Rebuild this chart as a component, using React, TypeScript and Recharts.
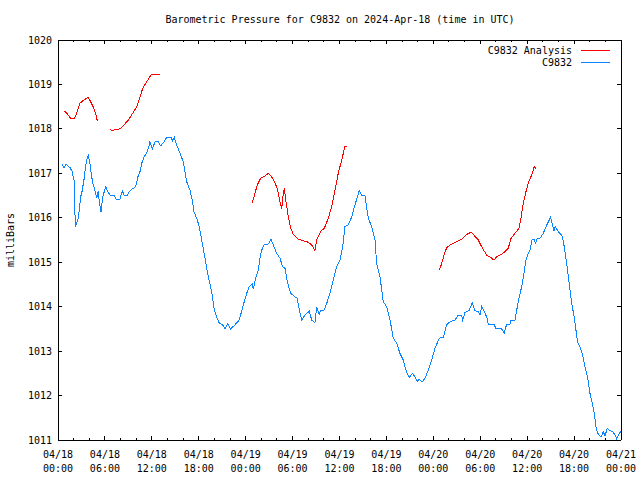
import React from 'react';
import { LineChart, Line, XAxis, YAxis } from 'recharts';

const TITLE = 'Barometric Pressure for C9832 on 2024-Apr-18 (time in UTC)';
const Y_LABEL = 'milliBars';
const ANALYSIS_NAME = 'C9832 Analysis';
const OBS_NAME = 'C9832';

const xMajorHours = [0, 6, 12, 18, 24, 30, 36, 42, 48, 54, 60, 66, 72];
const xTickDates = ['04/18', '04/18', '04/18', '04/18', '04/19', '04/19', '04/19', '04/19', '04/20', '04/20', '04/20', '04/20', '04/21'];
const xTickTimes = ['00:00', '06:00', '12:00', '18:00', '00:00', '06:00', '12:00', '18:00', '00:00', '06:00', '12:00', '18:00', '00:00'];
const xMinorHours = [0, 2, 4, 6, 8, 10, 12, 14, 16, 18, 20, 22, 24, 26, 28, 30, 32, 34, 36, 38, 40, 42, 44, 46, 48, 50, 52, 54, 56, 58, 60, 62, 64, 66, 68, 70, 72];
const yTicks = [1011, 1012, 1013, 1014, 1015, 1016, 1017, 1018, 1019, 1020];

// observed station pressure (hours since 2024-04-18 00:00 UTC)
const obsHours = [
  0.51, 0.77, 1.02, 1.53, 1.79, 2.05, 2.14, 2.21, 2.39, 2.60, 2.72, 2.90, 3.07, 3.32, 3.49, 3.67, 3.87,
  4.09, 4.31, 4.51, 4.77, 4.95, 5.15, 5.28, 5.50, 5.72, 5.92, 6.10, 6.36, 6.65, 7.16, 7.42, 7.93, 8.22,
  8.44, 8.86, 9.21, 9.85, 10.06, 10.27, 10.49, 10.70, 11.00, 11.34, 11.55, 11.76, 12.06, 12.40, 12.83,
  13.13, 13.55, 13.90, 14.45, 14.67, 14.87, 15.18, 15.60, 16.02, 16.46, 16.88, 17.17, 17.39, 17.81,
  18.07, 18.38, 18.80, 19.22, 19.65, 19.99, 20.29, 20.63, 21.06, 21.36, 21.70, 22.08, 22.63, 23.18,
  23.70, 24.13, 24.46, 24.85, 24.97, 25.32, 25.61, 25.83, 26.05, 26.34, 26.89, 27.24, 27.53, 27.97,
  28.39, 28.73, 29.03, 29.32, 29.76, 30.31, 30.60, 30.86, 31.16, 31.59, 32.14, 32.44, 32.86, 33.08,
  33.41, 33.59, 34.02, 34.36, 34.78, 35.20, 35.64, 36.06, 36.41, 36.70, 37.12, 37.56, 37.98, 38.53,
  38.84, 39.26, 39.68, 40.12, 40.54, 40.75, 41.18, 41.60, 42.03, 42.46, 42.88, 43.31, 43.73, 44.16,
  44.50, 44.92, 45.31, 45.65, 45.95, 46.16, 46.55, 46.93, 47.35, 47.79, 48.21, 48.76, 49.27, 49.71,
  50.13, 50.77, 51.19, 51.62, 51.75, 52.05, 52.60, 52.98, 53.32, 53.75, 53.96, 54.18, 54.51, 54.82,
  55.03, 55.75, 56.01, 56.74, 57.07, 57.38, 57.80, 57.89, 58.44, 58.66, 58.99, 59.30, 59.59, 59.85,
  60.06, 60.36, 60.65, 60.91, 61.09, 61.21, 61.64, 62.06, 62.57, 63.00, 63.21, 63.43, 63.59, 63.98,
  64.49, 64.74, 65.05, 65.38, 65.69, 65.98, 66.24, 66.46, 66.75, 67.10, 67.39, 67.74, 68.03, 68.32,
  68.58, 68.80, 69.02, 69.31, 69.53, 69.73, 69.95, 70.24, 70.59, 70.93, 71.23, 71.44, 71.65, 71.96,
];
const obsPressure = [
  1017.20, 1017.12, 1017.20, 1017.13, 1017.05, 1016.85, 1016.33, 1015.81, 1015.87, 1016.00, 1016.17, 1016.47, 1016.59, 1016.85, 1017.11, 1017.30, 1017.41,
  1017.22, 1016.92, 1016.74, 1016.59, 1016.44, 1016.61, 1016.36, 1016.14, 1016.47, 1016.59, 1016.70, 1016.59, 1016.51, 1016.50, 1016.42, 1016.42, 1016.61,
  1016.51, 1016.51, 1016.61, 1016.69, 1016.78, 1016.96, 1017.04, 1017.22, 1017.37, 1017.45, 1017.56, 1017.71, 1017.54, 1017.71, 1017.71,
  1017.62, 1017.71, 1017.81, 1017.81, 1017.73, 1017.81, 1017.64, 1017.45, 1017.26, 1016.81, 1016.62, 1016.40, 1016.14, 1015.95,
  1015.80, 1015.50, 1015.09, 1014.67, 1014.34, 1013.92, 1013.77, 1013.63, 1013.59, 1013.50, 1013.61, 1013.50, 1013.59, 1013.70,
  1014.04, 1014.30, 1014.45, 1014.51, 1014.39, 1014.67, 1014.82, 1015.09, 1015.27, 1015.39, 1015.41, 1015.52, 1015.39, 1015.20,
  1015.09, 1014.90, 1014.86, 1014.56, 1014.30, 1014.22, 1014.19, 1013.92, 1013.70, 1013.81, 1013.90, 1013.70, 1013.63, 1014.00,
  1013.83, 1013.92, 1013.92, 1014.07, 1014.30, 1014.60, 1014.90, 1015.05, 1015.35, 1015.80, 1015.84, 1016.02, 1016.29, 1016.61,
  1016.51, 1016.49, 1015.99, 1015.80, 1015.50, 1014.97, 1014.67, 1014.11, 1014.00, 1013.70, 1013.29, 1013.18, 1012.95, 1012.80,
  1012.57, 1012.40, 1012.50, 1012.42, 1012.31, 1012.37, 1012.30, 1012.39, 1012.57, 1012.80, 1013.06, 1013.29, 1013.31, 1013.59,
  1013.66, 1013.70, 1013.81, 1013.81, 1013.70, 1013.87, 1013.92, 1014.09, 1013.91, 1013.89, 1013.81, 1014.00, 1013.89, 1013.77,
  1013.61, 1013.61, 1013.50, 1013.50, 1013.40, 1013.61, 1013.61, 1013.70, 1013.70, 1013.92, 1014.22, 1014.45, 1014.75, 1015.05,
  1015.16, 1015.27, 1015.52, 1015.52, 1015.41, 1015.52, 1015.54, 1015.65, 1015.86, 1016.01, 1015.87, 1015.71, 1015.80, 1015.69,
  1015.59, 1015.35, 1014.97, 1014.52, 1014.07, 1013.81, 1013.47, 1013.19, 1013.10, 1012.91, 1012.65, 1012.39, 1012.05, 1011.83,
  1011.60, 1011.30, 1011.15, 1011.09, 1011.09, 1011.19, 1011.09, 1011.26, 1011.21, 1011.19, 1011.11, 1011.03, 1011.11, 1011.19,
];

// analysis pressure; null marks a gap between runs
const anaHours = [
  0.77, 1.11, 1.62, 2.05, 2.39, 2.81, 3.32, 3.87, 4.18, 4.60, 4.86, 5.03,
  5.8,
  6.65, 6.99, 7.42, 7.93, 8.44, 8.99, 9.55, 10.06, 10.49, 10.83, 11.34, 11.89, 12.40, 13.04,
  20.0,
  24.85, 25.19, 25.49, 25.92, 26.47, 26.89, 27.33, 27.75, 28.09, 28.39, 28.61, 28.81, 28.94, 29.16,
  29.45, 29.76, 30.09, 30.73, 31.37, 32.01, 32.44, 32.86, 33.08, 33.41, 33.72, 34.05, 34.57, 35.00,
  35.42, 35.84, 36.28, 36.70, 36.99,
  42.0,
  48.76, 49.07, 49.36, 49.71, 50.22, 50.98, 51.62, 52.05, 52.47, 52.90, 53.32, 53.75, 54.18, 54.82,
  55.24, 55.75, 56.10, 56.74, 57.16, 57.58, 57.89, 58.44, 58.95, 59.21, 59.50, 59.85, 60.14, 60.57,
  60.91, 61.09,
];
const anaPressure = [
  1018.40, 1018.36, 1018.24, 1018.22, 1018.35, 1018.58, 1018.65, 1018.71, 1018.61, 1018.46, 1018.31, 1018.18,
  null,
  1017.99, 1017.96, 1017.99, 1018.00, 1018.09, 1018.20, 1018.35, 1018.50, 1018.72, 1018.91, 1019.06, 1019.21, 1019.23, 1019.23,
  null,
  1016.34, 1016.55, 1016.74, 1016.89, 1016.94, 1017.00, 1016.92, 1016.79, 1016.62, 1016.36, 1016.21, 1016.55, 1016.66, 1016.36,
  1016.02, 1015.76, 1015.63, 1015.52, 1015.48, 1015.45, 1015.39, 1015.26, 1015.50, 1015.63, 1015.72, 1015.76, 1015.99, 1016.25,
  1016.62, 1017.00, 1017.30, 1017.61, 1017.61,
  null,
  1014.82, 1014.97, 1015.16, 1015.33, 1015.40, 1015.46, 1015.52, 1015.59, 1015.65, 1015.67, 1015.58, 1015.50, 1015.35, 1015.16,
  1015.12, 1015.05, 1015.12, 1015.18, 1015.24, 1015.31, 1015.52, 1015.65, 1015.76, 1015.99, 1016.33, 1016.59, 1016.78, 1016.96,
  1017.15, 1017.11,
];

const obsData = obsHours.map((h, i) => ({ h, p: obsPressure[i] }));
const anaData = anaHours.map((h, i) => ({ h, p: anaPressure[i] }));

const FONT = '"DejaVu Sans Mono", "Liberation Mono", monospace';
const RED = '#ff0000';
const BLUE = '#0a84ff';

const BottomTick = (props: any) => {
  const { x, y, payload } = props;
  const idx = xMajorHours.indexOf(payload.value);
  const major = idx >= 0;
  return (
    <g>
      <line x1={x} y1={y} x2={x} y2={y - (major ? 4 : 2)} stroke="#000" shapeRendering="crispEdges" />
      {major && (
        <text x={x} y={y + 18} textAnchor="middle" fontFamily={FONT} fontSize={10} fill="#000">
          {xTickDates[idx]}
        </text>
      )}
      {major && (
        <text x={x} y={y + 31.5} textAnchor="middle" fontFamily={FONT} fontSize={10} fill="#000">
          {xTickTimes[idx]}
        </text>
      )}
    </g>
  );
};

const TopTick = (props: any) => {
  const { x, y, payload } = props;
  const major = xMajorHours.indexOf(payload.value) >= 0;
  return <line x1={x} y1={y} x2={x} y2={y + (major ? 4 : 2)} stroke="#000" shapeRendering="crispEdges" />;
};

const LeftTick = (props: any) => {
  const { x, y, payload } = props;
  return (
    <g>
      <line x1={x} y1={y} x2={x + 4} y2={y} stroke="#000" shapeRendering="crispEdges" />
      <text x={x - 6} y={y + 3.5} textAnchor="end" fontFamily={FONT} fontSize={10} fill="#000">
        {payload.value}
      </text>
    </g>
  );
};

const RightTick = (props: any) => {
  const { x, y } = props;
  return <line x1={x} y1={y} x2={x - 4} y2={y} stroke="#000" shapeRendering="crispEdges" />;
};

export default function App() {
  return (
    <div style={{ position: 'absolute', left: 0, top: 0, width: 640, height: 480, background: '#fff' }}>
      <LineChart width={640} height={480} margin={{ top: 10, right: 0, bottom: 0, left: 8 }}>
        <XAxis
          dataKey="h"
          type="number"
          domain={[0, 72]}
          allowDataOverflow
          ticks={xMinorHours}
          interval={0}
          height={40}
          tickSize={0}
          tickMargin={0}
          tickLine={false}
          axisLine={{ stroke: '#000', shapeRendering: 'crispEdges' }}
          tick={<BottomTick />}
        />
        <XAxis
          xAxisId="top"
          orientation="top"
          dataKey="h"
          type="number"
          domain={[0, 72]}
          allowDataOverflow
          ticks={xMinorHours}
          interval={0}
          height={30}
          tickSize={0}
          tickMargin={0}
          tickLine={false}
          axisLine={{ stroke: '#000', shapeRendering: 'crispEdges' }}
          tick={<TopTick />}
        />
        <YAxis
          type="number"
          domain={[1011, 1020]}
          allowDataOverflow
          ticks={yTicks}
          interval={0}
          width={50}
          tickSize={0}
          tickMargin={0}
          tickLine={false}
          axisLine={{ stroke: '#000', shapeRendering: 'crispEdges' }}
          tick={<LeftTick />}
        />
        <YAxis
          yAxisId="right"
          orientation="right"
          type="number"
          domain={[1011, 1020]}
          allowDataOverflow
          ticks={yTicks}
          interval={0}
          width={19}
          tickSize={0}
          tickMargin={0}
          tickLine={false}
          axisLine={{ stroke: '#000', shapeRendering: 'crispEdges' }}
          tick={<RightTick />}
        />
        <Line
          data={obsData}
          dataKey="p"
          name={OBS_NAME}
          type="linear"
          stroke={BLUE}
          strokeWidth={1}
          shapeRendering="crispEdges"
          dot={false}
          activeDot={false}
          isAnimationActive={false}
        />
        <Line
          data={anaData}
          dataKey="p"
          name={ANALYSIS_NAME}
          type="linear"
          stroke={RED}
          strokeWidth={1}
          shapeRendering="crispEdges"
          dot={false}
          activeDot={false}
          connectNulls={false}
          isAnimationActive={false}
        />
      </LineChart>
      <svg
        width={640}
        height={480}
        style={{ position: 'absolute', left: 0, top: 0, pointerEvents: 'none' }}
      >
        <text x={340} y={23} textAnchor="middle" fontFamily={FONT} fontSize={10} fill="#000">
          {TITLE}
        </text>
        <text
          x={14}
          y={240}
          textAnchor="middle"
          fontFamily={FONT}
          fontSize={10}
          fill="#000"
          transform="rotate(-90 14 240)"
        >
          {Y_LABEL}
        </text>
        <text x={572} y={54} textAnchor="end" fontFamily={FONT} fontSize={10} fill="#000">
          {ANALYSIS_NAME}
        </text>
        <line x1={581} y1={50} x2={610} y2={50} stroke={RED} strokeWidth={1} shapeRendering="crispEdges" />
        <text x={572} y={66} textAnchor="end" fontFamily={FONT} fontSize={10} fill="#000">
          {OBS_NAME}
        </text>
        <line x1={581} y1={62} x2={610} y2={62} stroke={BLUE} strokeWidth={1} shapeRendering="crispEdges" />
      </svg>
    </div>
  );
}
